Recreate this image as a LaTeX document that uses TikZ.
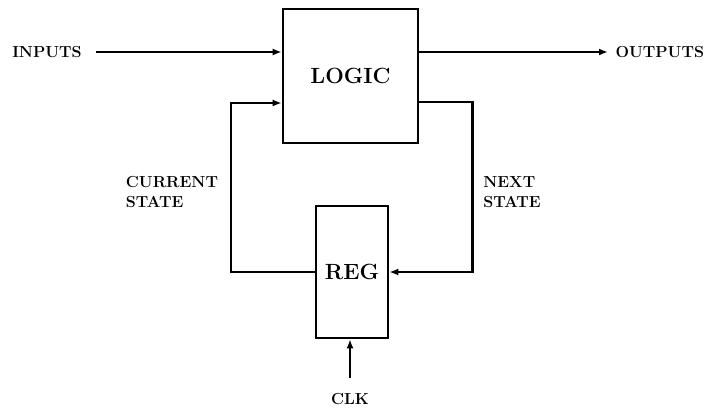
\documentclass[tikz,border=0pt]{standalone}
\usetikzlibrary{arrows.meta,positioning}

\begin{document}
\begin{tikzpicture}[x=1pt,y=-1pt,
    every node/.style={font=\fontsize{16}{20}\selectfont\bfseries},
    block/.style={rectangle,draw,line width=2.6pt,fill=white},
    bigtext/.style={font=\fontsize{22}{26}\selectfont\bfseries},
    arrow/.style={-{Latex[length=9pt,width=7pt]},line width=2.4pt},
    line/.style={line width=2.4pt}
]
\useasboundingbox (0,0) rectangle (708,408);

% Blocks
\node[block,bigtext,minimum width=135pt,minimum height=134pt] (logic) at (350.5,76) {LOGIC};
\node[block,bigtext,minimum width=72pt,minimum height=132pt] (reg) at (352,272) {REG};

% Labels
\node (inputs) at (47,52) {INPUTS};
\node[anchor=west] (outputs) at (612,52) {OUTPUTS};
\node (clk) at (350,399) {CLK};
\node[align=left] (current) at (172,192) {CURRENT\\STATE};
\node[align=left] (next) at (512,192) {NEXT\\STATE};

% Inputs and outputs
\draw[arrow,shorten <=11pt] (inputs.east) -- (inputs.east -| logic.west);
\draw[arrow,shorten >=4pt] (outputs.west -| logic.east) -- (outputs.west);

% State loop
\draw[arrow] (reg.west) -- ++(-84,0) |- ([yshift=-27pt]logic.west);
\draw[arrow] ([yshift=-26pt]logic.east) -- ++(53,0) |- (reg.east);

% Clock
\draw[arrow,shorten <=12pt] (clk.north) -- (clk.north |- reg.south);

\end{tikzpicture}
\end{document}
